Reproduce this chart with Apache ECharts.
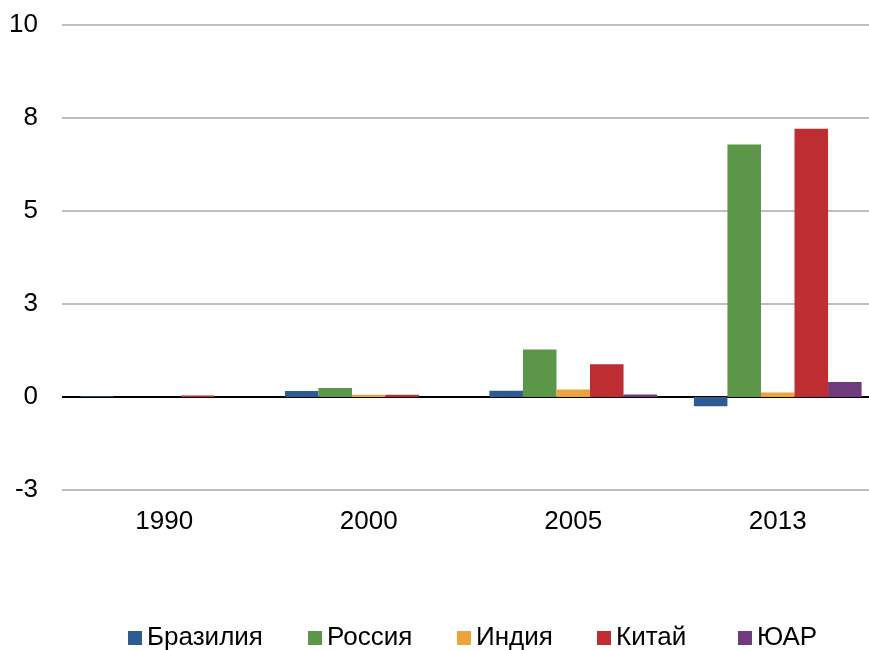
<!DOCTYPE html>
<html>
<head>
<meta charset="utf-8">
<script src="https://cdn.jsdelivr.net/npm/echarts@6/dist/echarts.min.js"></script>
<style>html,body{margin:0;padding:0;background:#fff}#c{width:869px;height:650px}</style>
</head>
<body>
<div id="c"></div>
<script>
const categories = ['1990', '2000', '2005', '2013'];
const brazil = [0.02, 0.16, 0.17, -0.25];
const russia = [0, 0.24, 1.28, 6.79];
const india = [0, 0.06, 0.2, 0.12];
const china = [0.04, 0.06, 0.88, 7.21];
const sar = [0, 0, 0.07, 0.4];
const seriesNames = ['Бразилия', 'Россия', 'Индия', 'Китай', 'ЮАР'];
const yTickLabels = ['-3', '0', '3', '5', '8', '10'];
const colors = ['#2d5b92', '#5b9649', '#eaa43b', '#be2d31', '#6e3c7c'];
const legendLefts = [128, 308, 457, 597, 738];

const chart = echarts.init(document.getElementById('c'));
const font = 'Arial, "Liberation Sans", sans-serif';
const data = [brazil, russia, india, china, sar];
chart.setOption({
  animation: false,
  color: colors,
  grid: { left: 62, width: 818, top: 25, height: 465, outerBoundsMode: 'none', containLabel: false },
  legend: seriesNames.map((n, i) => ({
    left: legendLefts[i], top: 625, padding: 0,
    icon: 'rect', itemWidth: 14, itemHeight: 14, itemGap: 0,
    textStyle: { fontFamily: font, fontSize: 26, color: '#000' },
    data: [n]
  })),
  xAxis: {
    type: 'category', data: categories,
    axisLine: { show: false, onZero: false },
    axisTick: { show: false },
    axisLabel: { fontFamily: font, fontSize: 26, color: '#000', margin: 19 }
  },
  yAxis: {
    type: 'value', min: -2.5, max: 10, interval: 2.5,
    axisLine: { show: false }, axisTick: { show: false },
    axisLabel: {
      fontFamily: font, fontSize: 26, color: '#000', margin: 24,
      formatter: (v) => yTickLabels[Math.round((v + 2.5) / 2.5)]
    },
    splitLine: { lineStyle: { color: ['#bfbfbf', '#000', '#bfbfbf', '#bfbfbf', '#bfbfbf', '#bfbfbf'], width: 2 } }
  },
  series: seriesNames.map((n, i) => ({
    name: n, type: 'bar', data: data[i],
    barGap: '0%', barCategoryGap: '18%'
  }))
});
</script>
</body>
</html>
